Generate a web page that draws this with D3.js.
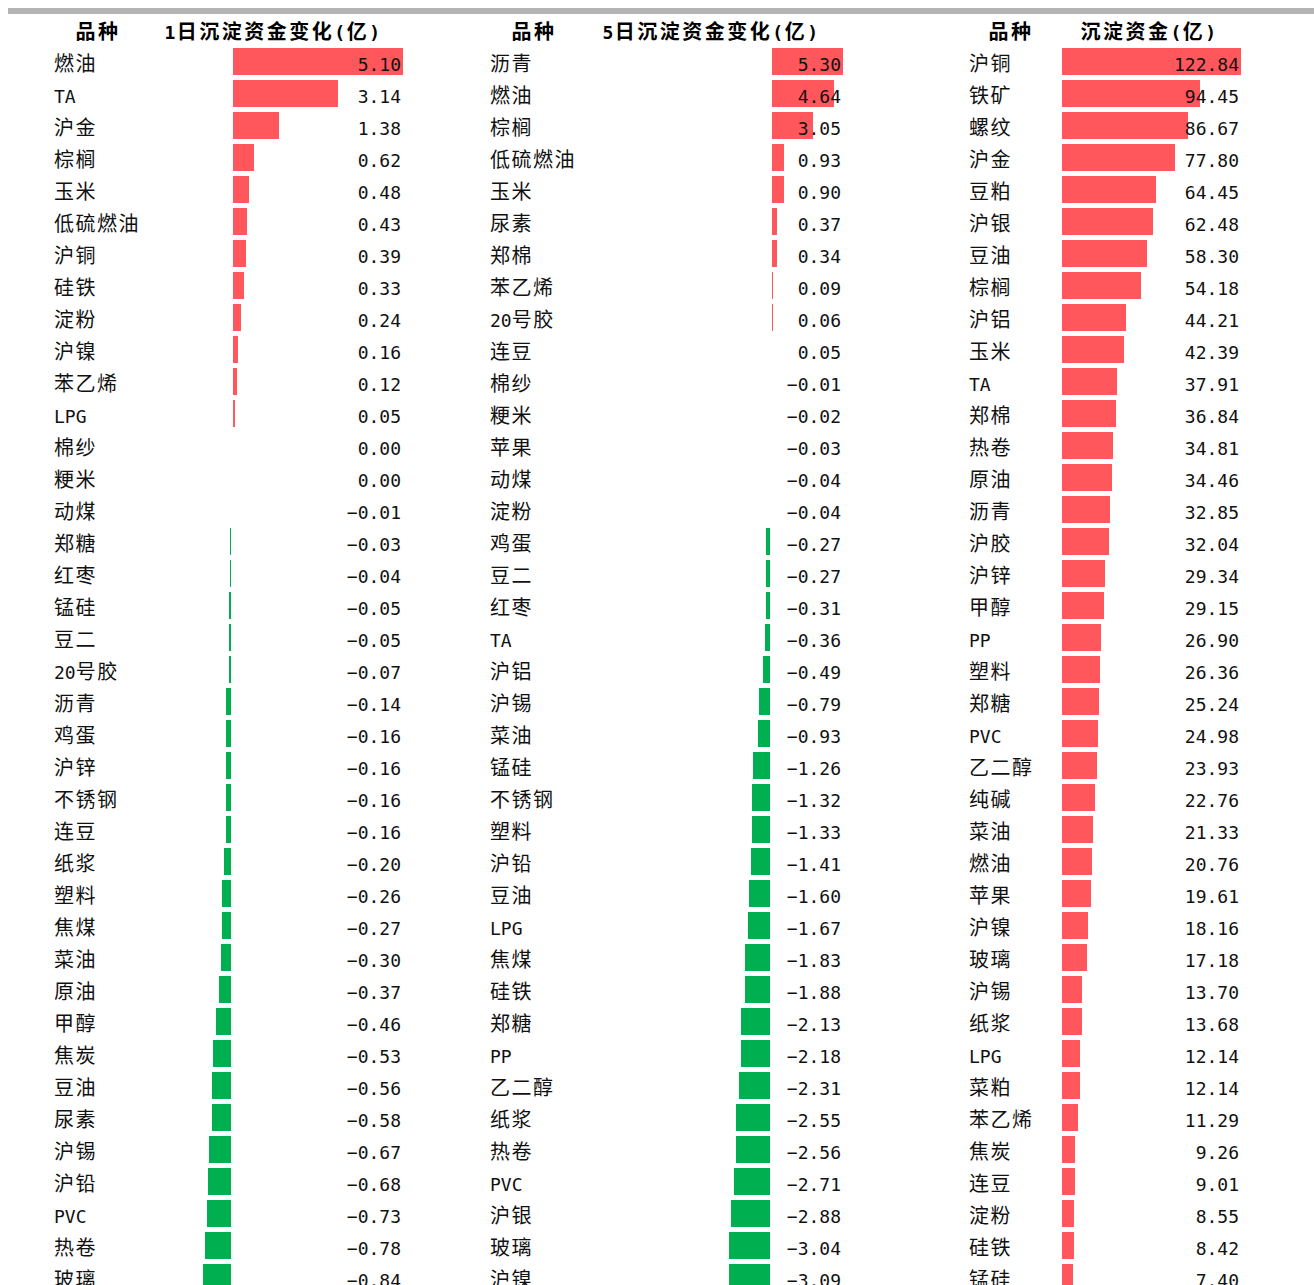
<!DOCTYPE html>
<html>
<head>
<meta charset="utf-8">
<script src="https://cdn.jsdelivr.net/npm/d3@7"></script>
<style>
  body { margin: 0; background: #fff; }
  svg { display: block; }
</style>
</head>
<body>
<div id="chart"></div>
<script>
// ---- data ----
const headers = ['1日沉淀资金变化(亿)', '5日沉淀资金变化(亿)', '沉淀资金(亿)'];

const names1d = ['燃油','TA','沪金','棕榈','玉米','低硫燃油','沪铜','硅铁','淀粉','沪镍','苯乙烯','LPG','棉纱','粳米','动煤','郑糖','红枣','锰硅','豆二','20号胶','沥青','鸡蛋','沪锌','不锈钢','连豆','纸浆','塑料','焦煤','菜油','原油','甲醇','焦炭','豆油','尿素','沪锡','沪铅','PVC','热卷','玻璃'];
const values1d = [5.10,3.14,1.38,0.62,0.48,0.43,0.39,0.33,0.24,0.16,0.12,0.05,0.00,0.00,-0.01,-0.03,-0.04,-0.05,-0.05,-0.07,-0.14,-0.16,-0.16,-0.16,-0.16,-0.20,-0.26,-0.27,-0.30,-0.37,-0.46,-0.53,-0.56,-0.58,-0.67,-0.68,-0.73,-0.78,-0.84];

const names5d = ['沥青','燃油','棕榈','低硫燃油','玉米','尿素','郑棉','苯乙烯','20号胶','连豆','棉纱','粳米','苹果','动煤','淀粉','鸡蛋','豆二','红枣','TA','沪铝','沪锡','菜油','锰硅','不锈钢','塑料','沪铅','豆油','LPG','焦煤','硅铁','郑糖','PP','乙二醇','纸浆','热卷','PVC','沪银','玻璃','沪镍'];
const values5d = [5.30,4.64,3.05,0.93,0.90,0.37,0.34,0.09,0.06,0.05,-0.01,-0.02,-0.03,-0.04,-0.04,-0.27,-0.27,-0.31,-0.36,-0.49,-0.79,-0.93,-1.26,-1.32,-1.33,-1.41,-1.60,-1.67,-1.83,-1.88,-2.13,-2.18,-2.31,-2.55,-2.56,-2.71,-2.88,-3.04,-3.09];

const namesTotal = ['沪铜','铁矿','螺纹','沪金','豆粕','沪银','豆油','棕榈','沪铝','玉米','TA','郑棉','热卷','原油','沥青','沪胶','沪锌','甲醇','PP','塑料','郑糖','PVC','乙二醇','纯碱','菜油','燃油','苹果','沪镍','玻璃','沪锡','纸浆','LPG','菜粕','苯乙烯','焦炭','连豆','淀粉','硅铁','锰硅'];
const valuesTotal = [122.84,94.45,86.67,77.80,64.45,62.48,58.30,54.18,44.21,42.39,37.91,36.84,34.81,34.46,32.85,32.04,29.34,29.15,26.90,26.36,25.24,24.98,23.93,22.76,21.33,20.76,19.61,18.16,17.18,13.70,13.68,12.14,12.14,11.29,9.26,9.01,8.55,8.42,7.40];

// ---- layout ----
const W = 1314, H = 1285;
const RED = '#ff575c', GREEN = '#00b050';
const CJK = '"Noto Sans CJK SC", sans-serif';
const MONO = '"DejaVu Sans Mono", monospace';

const panels = [
  { names: names1d, values: values1d, title: headers[0], nameX: 54, zeroX: 232, maxX: 402, valX: 401, hdrName: 98, hdrVal: 273 },
  { names: names5d, values: values5d, title: headers[1], nameX: 490, zeroX: 771, maxX: 842, valX: 841, hdrName: 534, hdrVal: 711 },
  { names: namesTotal, values: valuesTotal, title: headers[2], nameX: 969, zeroX: 1061, maxX: 1240, valX: 1239, hdrName: 1011, hdrVal: 1149 }
];

const svg = d3.select('#chart')
  .append('svg')
  .attr('width', W)
  .attr('height', H)
  .attr('viewBox', `0 0 ${W} ${H}`);

// grey rule at the top
svg.append('rect')
  .attr('x', 8).attr('y', 8)
  .attr('width', W - 8).attr('height', 6)
  .attr('fill', '#b4b4b4');

const fmt = d3.format('.2f');

// split text into ascii / cjk runs so latin gets half-width mono glyphs
const runs = s => s.match(/[\x00-\x7F]+|[^\x00-\x7F]+/g);
const isAscii = s => /^[\x00-\x7F]+$/.test(s);

function mixedText(sel, str, bold) {
  sel.selectAll('tspan')
    .data(runs(str))
    .join('tspan')
    .text(d => d)
    .attr('font-family', d => isAscii(d) ? MONO : CJK)
    .attr('font-size', d => isAscii(d) ? 18 : 20)
    .attr('font-weight', bold ? 700 : 400)
    .attr('letter-spacing', d => isAscii(d) ? (bold ? 1.5 : 0) : (bold ? 2.5 : 1.5));
}

// data-bar length in whole pixels; slivers under ~3/4 px are not drawn
const barLen = (x, d) => {
  const w = Math.abs(x(d) - x(0));
  return w < 0.75 ? 0 : Math.max(1, Math.round(w));
};

panels.forEach(p => {
  const n = p.names.length;
  const g = svg.append('g');

  const y = d3.scaleBand()
    .domain(d3.range(n))
    .range([45.5, 45.5 + 32 * n])
    .paddingInner(5 / 32)
    .paddingOuter(2.5 / 32);

  const x = d3.scaleLinear()
    .domain([0, d3.max(p.values)])
    .range([p.zeroX, p.maxX]);

  // header
  g.append('text')
    .attr('x', p.hdrName).attr('y', 39)
    .attr('text-anchor', 'middle')
    .attr('fill', '#000')
    .call(mixedText, '品种', true);

  g.append('text')
    .attr('x', p.hdrVal).attr('y', 39)
    .attr('text-anchor', 'middle')
    .attr('fill', '#000')
    .call(mixedText, p.title, true);

  // bars
  g.append('g')
    .attr('shape-rendering', 'crispEdges')
    .selectAll('rect')
    .data(p.values)
    .join('rect')
    .attr('x', d => d >= 0 ? x(0) + 1 : x(0) - 1 - barLen(x, d))
    .attr('y', (d, i) => y(i))
    .attr('width', d => barLen(x, d))
    .attr('height', y.bandwidth())
    .attr('fill', d => d >= 0 ? RED : GREEN);

  // names
  g.append('g')
    .selectAll('text')
    .data(p.names)
    .join('text')
    .attr('x', p.nameX)
    .attr('y', (d, i) => y(i) + 23)
    .attr('fill', '#111')
    .each(function (d) { d3.select(this).call(mixedText, d, false); });

  // values
  g.append('g')
    .selectAll('text')
    .data(p.values)
    .join('text')
    .attr('x', p.valX)
    .attr('y', (d, i) => y(i) + 23)
    .attr('text-anchor', 'end')
    .attr('font-family', MONO)
    .attr('font-size', 18)
    .attr('fill', '#111')
    .text(d => fmt(d));
});
</script>
</body>
</html>
